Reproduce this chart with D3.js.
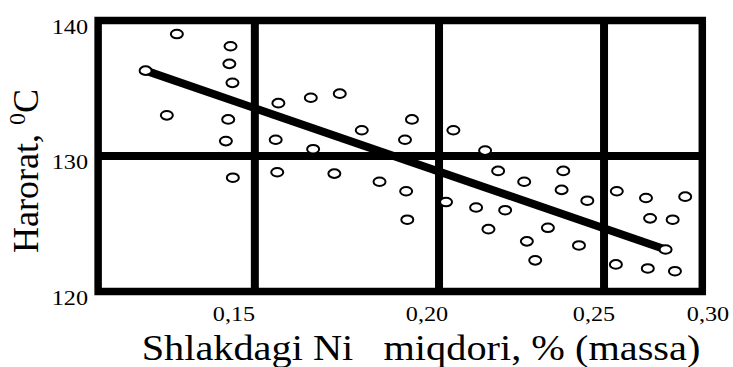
<!DOCTYPE html>
<html>
<head>
<meta charset="utf-8">
<script src="https://cdn.jsdelivr.net/npm/d3@7"></script>
<style>
  html, body { margin: 0; padding: 0; background: #fff; }
  svg { display: block; }
  svg text { fill: #000; white-space: pre; }
</style>
</head>
<body>
<svg id="chart" width="733" height="367"></svg>
<script>
// Nickel content in slag (% mass) and temperature (°C)
const niContent = [
  0.1352, 0.1491, 0.1488, 0.1496, 0.1271, 0.1326, 0.1485, 0.1479, 0.1497,
  0.1615, 0.1699, 0.1774, 0.1961, 0.1831, 0.1608, 0.1705, 0.1943, 0.1612,
  0.1760, 0.1877, 0.1946, 0.1949,
  0.2079, 0.2174, 0.2213, 0.2291, 0.2408, 0.2403, 0.2480, 0.2057, 0.2147,
  0.2234, 0.2184, 0.2362, 0.2299, 0.2455, 0.2324,
  0.2600, 0.2728, 0.2900, 0.2746, 0.2845, 0.2814, 0.2596, 0.2736, 0.2855
];
const temperature = [
  139.0, 138.1, 136.8, 135.4, 136.3, 133.0, 132.7, 131.1, 128.4,
  133.9, 134.3, 134.6, 132.7, 131.9, 131.2, 130.5, 131.2, 128.8,
  128.7, 128.1, 127.4, 125.3,
  131.9, 130.4, 128.9, 128.1, 128.9, 127.5, 126.7, 126.6, 126.2,
  126.0, 124.6, 124.7, 123.7, 123.4, 122.3,
  127.4, 126.9, 127.0, 125.4, 125.3, 123.1, 122.0, 121.7, 121.5
];

// Regression line end points
const trendNi = [0.1271, 0.2814];
const trendT = [136.3, 123.1];

// Axis ticks and labels
const xTicks = [0.15, 0.20, 0.25, 0.30];
const xTickLabels = ["0,15", "0,20", "0,25", "0,30"];
const yTicks = [140, 130, 120];
const yTickLabels = ["140", "130", "120"];

// Frame extents and inner grid lines
const xFrame = [0.1148, 0.2975];
const yFrame = [120, 140];
const xGrid = [0.1554, 0.2036, 0.2544];
const yGrid = [130];

const xTitle = "Shlakdagi Ni   miqdori, % (massa)";
const yTitle = "Harorat, ";
const yTitleSup = "0";
const yTitleUnit = "C";

const FONT = '"Liberation Serif", "Times New Roman", Times, serif';

// make sure the serif face is resolved before drawing
const probe = document.createElement("canvas").getContext("2d");
probe.font = '30px "Liberation Serif"';
probe.measureText(xTitle);

const svg = d3.select("#chart");

const x = d3.scaleLinear()
  .domain(xTicks)
  .range([234, 427, 594, 708]);
const y = d3.scaleLinear()
  .domain([120, 140])
  .range([291.5, 20.5]);

const plot = svg.append("g");

// Inner grid
plot.selectAll("line.vgrid").data(xGrid).join("line")
  .attr("class", "vgrid")
  .attr("x1", d => x(d)).attr("x2", d => x(d))
  .attr("y1", y(yFrame[1])).attr("y2", y(yFrame[0]))
  .attr("stroke", "#000").attr("stroke-width", 8);

plot.selectAll("line.hgrid").data(yGrid).join("line")
  .attr("class", "hgrid")
  .attr("x1", x(xFrame[0])).attr("x2", x(xFrame[1]))
  .attr("y1", d => y(d)).attr("y2", d => y(d))
  .attr("stroke", "#000").attr("stroke-width", 8);

// Outer frame
plot.append("rect")
  .attr("x", x(xFrame[0]))
  .attr("y", y(yFrame[1]))
  .attr("width", x(xFrame[1]) - x(xFrame[0]))
  .attr("height", y(yFrame[0]) - y(yFrame[1]))
  .attr("fill", "none")
  .attr("stroke", "#000")
  .attr("stroke-width", 7.5);

// Trend line
const trend = d3.line()
  .x(d => x(d[0]))
  .y(d => y(d[1]));
plot.append("path")
  .datum(d3.zip(trendNi, trendT))
  .attr("d", trend)
  .attr("fill", "none")
  .attr("stroke", "#000")
  .attr("stroke-width", 8);

// Observations
plot.selectAll("ellipse.pt").data(d3.zip(niContent, temperature)).join("ellipse")
  .attr("class", "pt")
  .attr("cx", d => x(d[0]))
  .attr("cy", d => y(d[1]))
  .attr("rx", 6)
  .attr("ry", 4.3)
  .attr("fill", "#fff")
  .attr("stroke", "#000")
  .attr("stroke-width", 2);

// X tick labels
svg.selectAll("text.xtick").data(xTicks).join("text")
  .attr("class", "xtick")
  .attr("font-family", FONT)
  .attr("transform", d => `translate(${x(d)},321) scale(1.1,1)`)
  .attr("text-anchor", "middle")
  .attr("font-size", 22)
  .text((d, i) => xTickLabels[i]);

// Y tick labels
svg.selectAll("text.ytick").data(yTicks).join("text")
  .attr("class", "ytick")
  .attr("font-family", FONT)
  .attr("transform", d => `translate(88,${y(d) + 13}) scale(1.1,1)`)
  .attr("text-anchor", "end")
  .attr("font-size", 22)
  .text((d, i) => yTickLabels[i]);

// X axis title
svg.append("text")
  .attr("font-family", FONT)
  .attr("transform", "translate(421,360) scale(1.12,1)")
  .attr("text-anchor", "middle")
  .attr("font-size", 36)
  .text(xTitle);

// Y axis title
const yt = svg.append("text")
  .attr("font-family", FONT)
  .attr("transform", "translate(38,253) rotate(-90)")
  .attr("text-anchor", "start")
  .attr("font-size", 36);
yt.append("tspan").text(yTitle);
yt.append("tspan").attr("dy", -13).attr("font-size", 24).text(yTitleSup);
yt.append("tspan").attr("dy", 13).text(yTitleUnit);
</script>
</body>
</html>
